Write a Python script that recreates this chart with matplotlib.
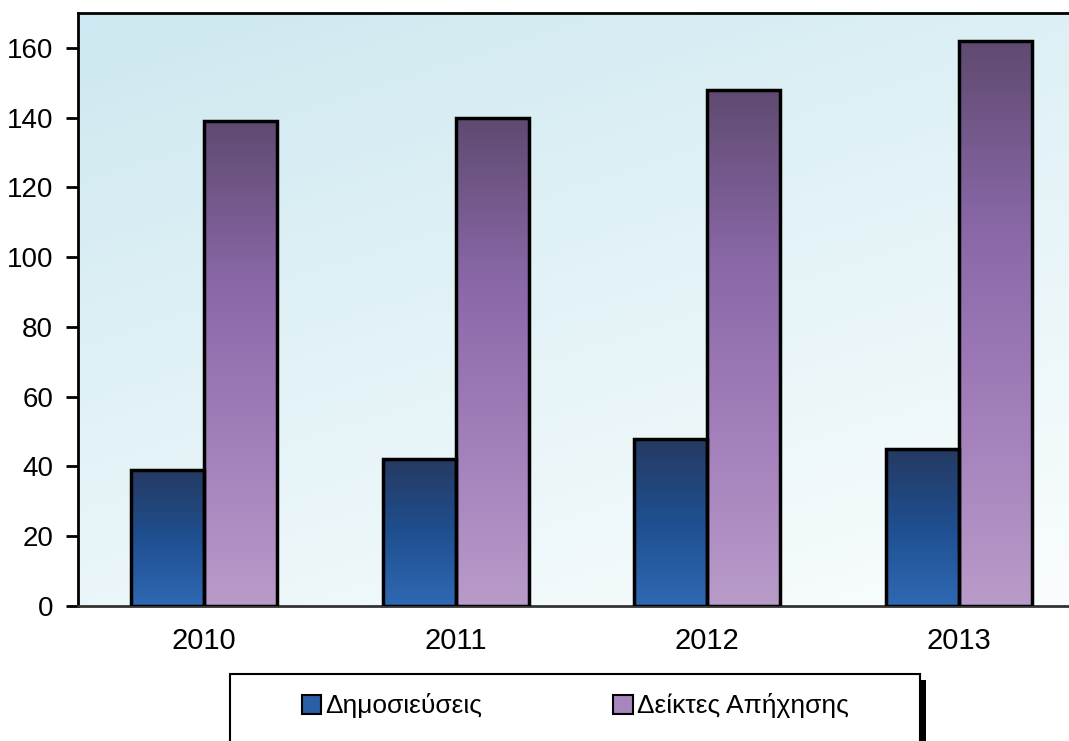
import matplotlib
matplotlib.use("Agg")
from matplotlib import pyplot as plt
from matplotlib.patches import Rectangle, Patch
from matplotlib.colors import LinearSegmentedColormap
import numpy as np

plt.rcParams['font.family'] = ['Liberation Sans', 'DejaVu Sans']

years = ['2010', '2011', '2012', '2013']
publications = [39, 42, 48, 45]        # Δημοσιεύσεις
citations = [139, 140, 148, 162]       # Δείκτες Απήχησης
labels = ['Δημοσιεύσεις', 'Δείκτες Απήχησης']

blue_cmap = LinearSegmentedColormap.from_list('b', ['#2f69b4', '#1f4f90', '#253a62'])
purple_cmap = LinearSegmentedColormap.from_list('p', ['#b99bc9', '#a37fbb', '#8a68a8', '#5f4a70'])
bg_cmap = LinearSegmentedColormap.from_list('bg', ['#fafdfe', '#e4f3f7', '#cde8f0'])

fig = plt.figure(figsize=(10.69, 7.41), dpi=100)
ax = fig.add_axes([78 / 1069, 1 - 606 / 741, 1 - 78 / 1069, (606 - 13) / 741])

# diagonal background gradient
yy, xx = np.mgrid[0:1:200j, 0:1:200j]
grad = 0.65 * yy + 0.35 * (1 - xx)
ax.imshow(grad, cmap=bg_cmap, extent=[0, 1, 0, 1], transform=ax.transAxes,
          aspect='auto', origin='lower', zorder=0)

x = np.arange(len(years))
w = 0.29

def grad_bars(xpos, vals, cmap):
    bars = ax.bar(xpos, vals, width=w, facecolor='none', edgecolor='black',
                  linewidth=2.5, zorder=3)
    g = np.linspace(0, 1, 256).reshape(-1, 1)
    for b in bars:
        x0, y0 = b.get_x(), b.get_y()
        im = ax.imshow(g, cmap=cmap, aspect='auto', origin='lower',
                       extent=[x0, x0 + b.get_width(), y0, y0 + b.get_height()],
                       zorder=2)
        im.set_clip_path(b)
    return bars

grad_bars(x - w / 2, publications, blue_cmap)
grad_bars(x + w / 2, citations, purple_cmap)

ax.set_xlim(-0.5, -0.5 + 991 / 251.7)
ax.set_ylim(0, 170)
ax.set_yticks(range(0, 161, 20))
ax.set_xticks(x)
ax.set_xticklabels(years)
ax.tick_params(axis='y', direction='out', length=9, width=2, labelsize=20, pad=9)
ax.tick_params(axis='x', length=0, labelsize=21, pad=15)
for s in ['left', 'top', 'bottom']:
    ax.spines[s].set_linewidth(2)
ax.spines['bottom'].set_color('#333333')
ax.spines['right'].set_visible(False)

# legend box with shadow
W, H = 1069, 741
fig.patches.append(Rectangle((236 / W, -10 / H), 690 / W, (741 - 680 + 10) / H,
                             transform=fig.transFigure, facecolor='black',
                             edgecolor='none', zorder=1))
fig.patches.append(Rectangle((230 / W, -10 / H), 690 / W, (741 - 674 + 10) / H,
                             transform=fig.transFigure, facecolor='white',
                             edgecolor='black', linewidth=1.5, zorder=2))

handles = [Patch(facecolor='#2a5ea5', edgecolor='black', linewidth=1.5),
           Patch(facecolor='#a686bd', edgecolor='black', linewidth=1.5)]
fig.legend(handles, labels, loc='center', bbox_to_anchor=(575 / W, 1 - 706 / H),
           ncol=2, frameon=False, fontsize=19, handlelength=0.75, handleheight=0.75,
           handletextpad=0.15, columnspacing=4.95)

fig.savefig('out.png', dpi=100)
